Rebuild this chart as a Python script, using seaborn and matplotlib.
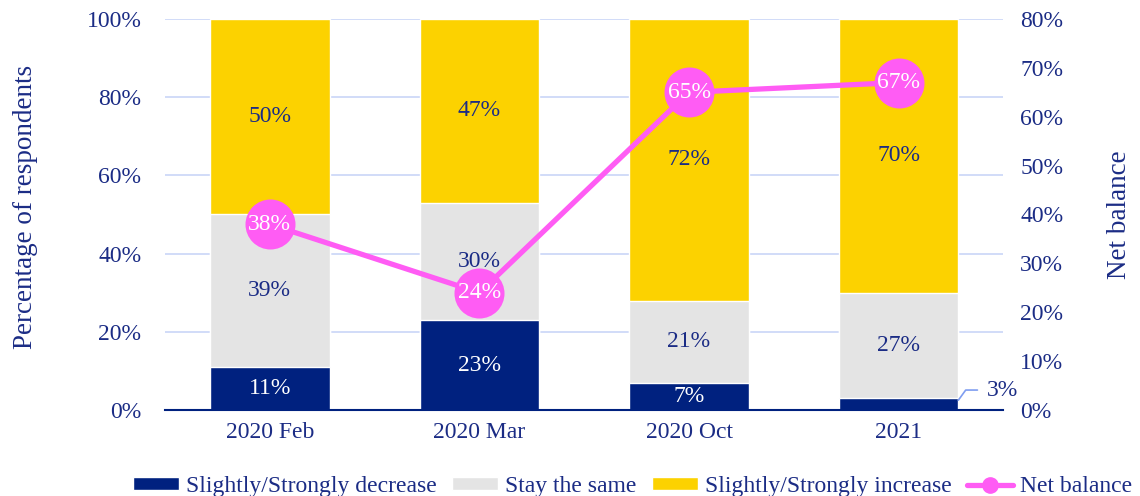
import numpy as np
import pandas as pd
import matplotlib
matplotlib.use("Agg")
import matplotlib.pyplot as plt
import seaborn as sns
from matplotlib.patches import Patch
from matplotlib.lines import Line2D

# Data
periods = ["2020 Feb", "2020 Mar", "2020 Oct", "2021"]
decrease = [11, 23, 7, 3]
same = [39, 30, 21, 27]
increase = [50, 47, 72, 70]
net_balance = [38, 24, 65, 67]

# Colours
NAVY = "#1b2c85"
BLUE = "#00217f"
GREY = "#e4e4e4"
YELLOW = "#fcd200"
PINK = "#ff5cf4"
GRID = "#c9d5f7"

sns.set_style("white")
plt.rcParams["font.family"] = ["Liberation Serif", "DejaVu Serif"]
plt.rcParams["font.size"] = 17

df = pd.DataFrame({"period": periods, "decrease": decrease, "same": same,
                   "increase": increase, "net": net_balance})
df["low"] = df["decrease"]
df["mid"] = df["decrease"] + df["same"]
df["top"] = df["mid"] + df["increase"]

fig = plt.figure(figsize=(11.4, 4.96), dpi=100)
ax = fig.add_axes([0.1447, 0.1734, 0.7355, 0.7883])

# stacked bars: draw the cumulative totals from tallest to shortest
for col, colr in [("top", YELLOW), ("mid", GREY), ("low", BLUE)]:
    sns.barplot(data=df, x="period", y=col, color=colr, width=0.57,
                saturation=1, ax=ax, zorder=2)

ax.set_ylim(0, 100)
ax.set_xlim(-0.5, 3.5)
ax.set_yticks(range(0, 101, 20))
ax.set_yticklabels([f"{v}%" for v in range(0, 101, 20)], color=NAVY)
ax.yaxis.grid(True, color=GRID, linewidth=1.2, zorder=0)
ax.set_axisbelow(True)
ax.set_xlabel("")
ax.set_ylabel("Percentage of respondents", color=NAVY, fontsize=19.5)
ax.yaxis.set_label_coords(-0.152, 0.52)
ax.tick_params(axis="y", length=0, colors=NAVY, labelsize=17, pad=17)
ax.tick_params(axis="x", length=0, colors=NAVY, labelsize=17, pad=9)
for lbl in ax.get_xticklabels():
    lbl.set_color(NAVY)
for s in ["left", "right", "top"]:
    ax.spines[s].set_visible(False)
ax.spines["bottom"].set_color(BLUE)
ax.spines["bottom"].set_linewidth(1.5)

# segment labels
for i in range(len(periods)):
    if decrease[i] >= 5:
        ax.text(i, decrease[i] / 2, f"{decrease[i]}%", ha="center", va="center",
                color="white", fontsize=17, zorder=5)
    else:
        ax.plot([i + 0.285, i + 0.32, i + 0.376], [decrease[i] - 0.5, 5.1, 5.1],
                color="#7f9df0", linewidth=1.2, zorder=5, clip_on=False)
        ax.text(i + 0.42, 5.1, f"{decrease[i]}%", ha="left", va="center",
                color=NAVY, fontsize=17, zorder=5)
    ax.text(i, decrease[i] + same[i] / 2, f"{same[i]}%", ha="center", va="center",
            color=NAVY, fontsize=17, zorder=5)
    ax.text(i, decrease[i] + same[i] + increase[i] / 2, f"{increase[i]}%",
            ha="center", va="center", color=NAVY, fontsize=17, zorder=5)

# net balance on secondary axis
ax2 = ax.twinx()
sns.lineplot(x=np.arange(len(periods)), y=net_balance, color=PINK, linewidth=3.8,
             marker="o", markersize=36, markeredgewidth=0, ax=ax2, zorder=6)
ax2.set_ylim(0, 80)
ax2.set_xlim(-0.5, 3.5)
ax2.set_yticks(range(0, 81, 10))
ax2.set_yticklabels([f"{v}%" for v in range(0, 81, 10)], color=NAVY)
ax2.set_ylabel("Net balance", color=NAVY, fontsize=19.5)
ax2.yaxis.set_label_coords(1.124, 0.5)
ax2.tick_params(axis="y", length=0, colors=NAVY, labelsize=17, pad=12)
for s in ["left", "right", "top", "bottom"]:
    ax2.spines[s].set_visible(False)
for i, v in enumerate(net_balance):
    ax2.text(i, v, f"{v}%", ha="center", va="center", color="white",
             fontsize=17, zorder=7)

handles = [
    Patch(facecolor=BLUE, label="Slightly/Strongly decrease"),
    Patch(facecolor=GREY, label="Stay the same"),
    Patch(facecolor=YELLOW, label="Slightly/Strongly increase"),
    Line2D([0], [0], color=PINK, linewidth=3.8, marker="o", markersize=11,
           label="Net balance"),
]
fig.legend(handles=handles, loc="lower center", bbox_to_anchor=(0.555, -0.045),
           ncol=4, frameon=False, fontsize=17, labelcolor=NAVY,
           handlelength=1.95, handleheight=0.5, handletextpad=0.3,
           columnspacing=0.65)

fig.savefig("out.png", dpi=100)
